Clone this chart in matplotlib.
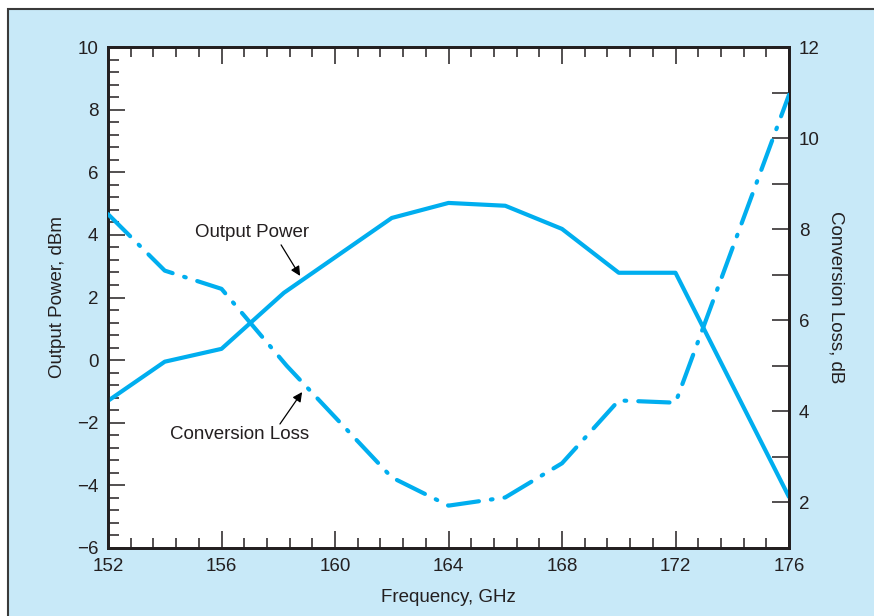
import matplotlib.pyplot as plt
from matplotlib.patches import Rectangle
from matplotlib.ticker import MultipleLocator

plt.rcParams['font.family'] = ['Liberation Sans', 'DejaVu Sans']

# values
freq_power = [152, 154, 156, 158.2, 162, 164, 166, 168, 170, 172, 176]
power_dbm = [-1.30, -0.05, 0.36, 2.15, 4.54, 5.02, 4.93, 4.19, 2.79, 2.79, -4.37]

freq_loss = [152, 154, 156, 158.3, 162, 164, 166, 168, 170, 172, 176]
loss_db = [8.33, 7.09, 6.69, 5.0, 2.55, 1.93, 2.11, 2.86, 4.24, 4.19, 10.95]

x_ticks = [152, 156, 160, 164, 168, 172, 176]
left_ticks = [-6, -4, -2, 0, 2, 4, 6, 8, 10]
right_ticks = [2, 4, 6, 8, 10, 12]

line_color = '#00aeef'
ink = '#231f20'
bg = '#c8e9f8'
fs = 13.5

fig = plt.figure(figsize=(8.74, 6.16), dpi=100)
fig.patch.set_facecolor('white')
# light blue panel with a dark rule on top and left
fig.patches.append(Rectangle((8 / 874, -0.1), 1.2, 1.1 - 9 / 616, transform=fig.transFigure,
                             facecolor=bg, edgecolor='#3a3a3a', lw=1.5, zorder=-10))

ax = fig.add_axes([108 / 874, 68 / 616, 681 / 874, 501 / 616])
ax.set_facecolor('white')
ax2 = ax.twinx()

ax.plot(freq_power, power_dbm, color=line_color, lw=3, solid_capstyle='round',
        solid_joinstyle='round', zorder=3)
ax2.plot(freq_loss, loss_db, color=line_color, lw=3, ls=(0, (7.5, 2.9, 0.4, 2.9)),
         dash_capstyle='round', dash_joinstyle='round', zorder=3)

ax.set_xlim(152, 176)
ax.set_ylim(-6, 10)
ax2.set_ylim(1, 12)

ax.set_xticks(x_ticks)
ax.xaxis.set_minor_locator(MultipleLocator(0.8))
ax.set_yticks(left_ticks)
ax.yaxis.set_minor_locator(MultipleLocator(0.4))
ax2.set_yticks(right_ticks)
ax2.yaxis.set_minor_locator(MultipleLocator(1))

ax.tick_params(axis='x', which='both', direction='in', top=True, bottom=True,
               labelsize=fs, colors=ink, pad=7, width=1.1)
ax.tick_params(axis='x', which='major', length=12)
ax.tick_params(axis='x', which='minor', length=7)
ax.tick_params(axis='y', which='both', direction='in', left=True, right=False,
               labelsize=fs, colors=ink, pad=7, width=1.1)
ax.tick_params(axis='y', which='major', length=12)
ax.tick_params(axis='y', which='minor', length=8)
ax2.tick_params(axis='y', which='both', direction='in', length=12, width=1.1,
                labelsize=fs, colors=ink, pad=7)

for a in (ax, ax2):
    for s in a.spines.values():
        s.set_linewidth(2)
        s.set_color(ink)

ax.set_xlabel('Frequency, GHz', fontsize=fs, color=ink, labelpad=10)
ax.set_ylabel('Output Power, dBm', fontsize=fs, color=ink, labelpad=8)
ax2.set_ylabel('Conversion Loss, dB', fontsize=fs, color=ink, rotation=-90, labelpad=18)

arrow = dict(arrowstyle='-|>', color='black', lw=0.9, mutation_scale=14, shrinkA=0, shrinkB=0)
ax.annotate('', xy=(158.77, 2.69), xytext=(158.10, 3.68), arrowprops=arrow, zorder=4)
ax.text(157.07, 4.06, 'Output Power', fontsize=fs, color=ink, ha='center', va='center')
ax.annotate('', xy=(158.84, -1.02), xytext=(158.06, -2.04), arrowprops=arrow, zorder=4)
ax.text(156.65, -2.39, 'Conversion Loss', fontsize=fs, color=ink, ha='center', va='center')

fig.savefig('out.png', dpi=100)
